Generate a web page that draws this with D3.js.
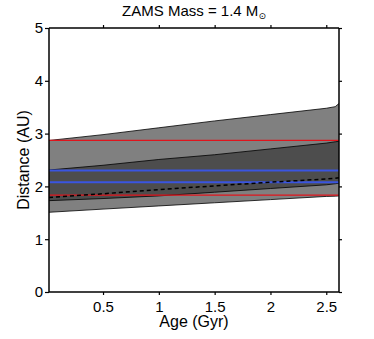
<!DOCTYPE html>
<html>
<head>
<meta charset="utf-8">
<script src="https://cdn.jsdelivr.net/npm/d3@7"></script>
<style>
  body { margin: 0; background: #fff; }
  text { font-family: "Liberation Sans", Arial, sans-serif; fill: #000; }
</style>
</head>
<body>
<div id="chart"></div>
<script>
const ages = [0.016, 0.5, 1.0, 1.5, 2.0, 2.5, 2.58, 2.614];
const outerTop = [2.87, 2.98, 3.11, 3.24, 3.36, 3.48, 3.51, 3.57];
const outerBot = [1.51, 1.57, 1.63, 1.69, 1.75, 1.81, 1.815, 1.82];
const innerTop = [2.31, 2.40, 2.51, 2.60, 2.71, 2.82, 2.845, 2.855];
const innerBot = [1.73, 1.77, 1.82, 1.89, 1.96, 2.03, 2.05, 2.06];
const dashed = [1.79, 1.86, 1.94, 2.01, 2.08, 2.14, 2.155, 2.165];
const redLines = [2.87, 1.835];
const blueLines = [2.30, 2.08];
const xTicks = [0.5, 1, 1.5, 2, 2.5];
const yTicks = [0, 1, 2, 3, 4, 5];

const width = 374, height = 339;
const margin = {left: 49, right: 35, top: 28, bottom: 47};

const svg = d3.select("#chart").append("svg")
    .attr("width", width)
    .attr("height", height);

const x = d3.scaleLinear().domain([0.016, 2.614]).range([margin.left, width - margin.right]);
const y = d3.scaleLinear().domain([0, 5]).range([height - margin.bottom, margin.top]);

const band = (lo, hi) => d3.area()
    .x((d, i) => x(ages[i]))
    .y0((d, i) => y(lo[i]))
    .y1((d, i) => y(hi[i]))(ages);

svg.append("path").attr("d", band(outerBot, outerTop)).attr("fill", "#808080");
svg.append("path").attr("d", band(innerBot, innerTop)).attr("fill", "#4d4d4d");

const line = d3.line().x((d, i) => x(ages[i])).y(d => y(d));
[outerTop, outerBot, innerTop, innerBot].forEach(arr => {
    svg.append("path").attr("d", line(arr))
        .attr("fill", "none").attr("stroke", "#000").attr("stroke-width", 0.8);
});

redLines.forEach(v => {
    svg.append("line")
        .attr("x1", x.range()[0]).attr("x2", x.range()[1])
        .attr("y1", y(v)).attr("y2", y(v))
        .attr("stroke", "#e0141c").attr("stroke-width", 1.2);
});
blueLines.forEach(v => {
    svg.append("line")
        .attr("x1", x.range()[0]).attr("x2", x.range()[1])
        .attr("y1", y(v)).attr("y2", y(v))
        .attr("stroke", "#3a55e0").attr("stroke-width", 2);
});

svg.append("path").attr("d", line(dashed))
    .attr("fill", "none").attr("stroke", "#000")
    .attr("stroke-width", 1.5).attr("stroke-dasharray", "4,3");

// axes, ticks pointing out
const fmt = d3.format("");
const gx = svg.append("g").attr("transform", "translate(0," + y(0) + ")")
    .call(d3.axisBottom(x).tickValues(xTicks).tickSize(3).tickPadding(6).tickFormat(fmt));
const gxTop = svg.append("g").attr("transform", "translate(0," + y(5) + ")")
    .call(d3.axisTop(x).tickValues(xTicks).tickSize(3).tickFormat(""));
const gy = svg.append("g").attr("transform", "translate(" + x.range()[0] + ",0)")
    .call(d3.axisLeft(y).tickValues(yTicks).tickSize(4).tickPadding(2).tickFormat(fmt));
const gyR = svg.append("g").attr("transform", "translate(" + x.range()[1] + ",0)")
    .call(d3.axisRight(y).tickValues(yTicks).tickSize(3).tickFormat(""));

[gx, gxTop, gy, gyR].forEach(g => {
    g.select(".domain").attr("stroke", "#000").attr("stroke-width", 1.5)
        .attr("d", g === gx || g === gxTop
            ? "M" + x.range()[0] + ",0H" + x.range()[1]
            : "M0," + y.range()[1] + "V" + y.range()[0]);
    g.selectAll(".tick line").attr("stroke", "#000").attr("stroke-width", 1.2);
    g.selectAll("text").attr("font-size", 15)
        .attr("font-family", "'Liberation Sans', Arial, sans-serif").attr("fill", "#000");
});

svg.append("text")
    .attr("x", (x.range()[0] + x.range()[1]) / 2)
    .attr("y", 327)
    .attr("text-anchor", "middle")
    .attr("font-size", 16)
    .text("Age (Gyr)");

svg.append("text")
    .attr("transform", "translate(29," + ((y.range()[0] + y.range()[1]) / 2) + ") rotate(-90)")
    .attr("text-anchor", "middle")
    .attr("font-size", 16)
    .text("Distance (AU)");

const title = svg.append("text")
    .attr("x", (x.range()[0] + x.range()[1]) / 2)
    .attr("y", 16)
    .attr("text-anchor", "middle")
    .attr("font-size", 15);
title.append("tspan").text("ZAMS Mass = 1.4 M");
title.append("tspan").attr("font-size", 9).attr("dy", 3)
    .attr("font-family", "'DejaVu Sans', sans-serif").text("\u2299");
</script>
</body>
</html>
